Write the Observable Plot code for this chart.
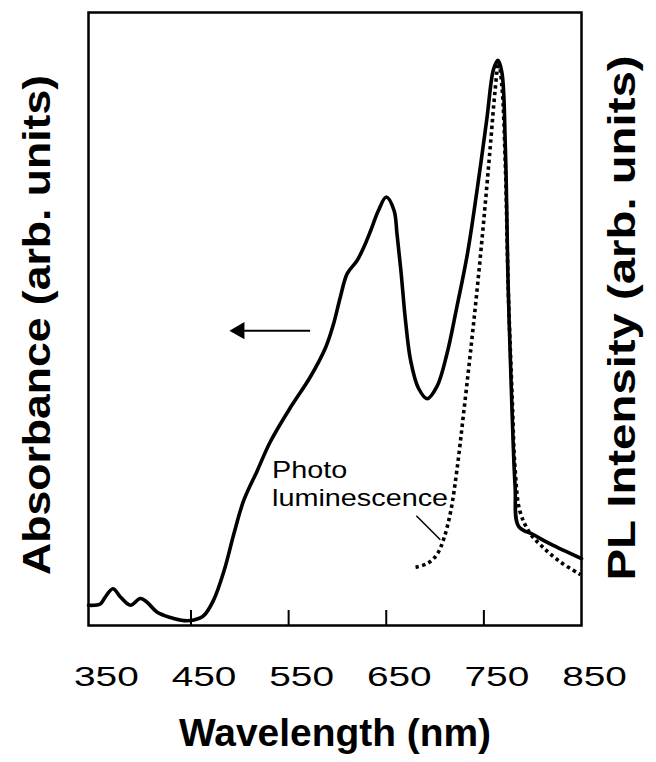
<!DOCTYPE html>
<html><head><meta charset="utf-8">
<script src="https://cdn.jsdelivr.net/npm/d3@7"></script>
<script src="https://cdn.jsdelivr.net/npm/@observablehq/plot@0.6"></script>
<style>body{margin:0;background:#fff;}</style>
</head><body><div id="chart"></div>
<script>
// Absorbance spectrum (solid)
const absWavelength = [345,357,362,370,378,388,398,405,415,429,443,453,463,473,484,494,504,518,531,552,572,588,596,603,610,620,627,634,642,650,658,661,665,670,675,683,692,702,712,722,733,743,753,760,764.5,768.5,772,775,779,782,785.5,801,818,850];
const absValue = [0.033,0.035,0.046,0.060,0.046,0.033,0.044,0.038,0.022,0.013,0.008,0.009,0.016,0.041,0.090,0.150,0.204,0.253,0.299,0.356,0.405,0.454,0.492,0.536,0.574,0.595,0.617,0.644,0.677,0.699,0.677,0.639,0.579,0.493,0.432,0.387,0.370,0.390,0.442,0.517,0.605,0.710,0.826,0.908,0.922,0.902,0.780,0.547,0.343,0.227,0.162,0.148,0.133,0.109];
// Photoluminescence spectrum (dotted)
const plWavelength = [680,692,702,709,716,722.5,729,736,743,750,756.5,761.5,765,768.5,772,775,779,782,787,797.5,811,828,849];
const plValue = [0.095,0.101,0.116,0.142,0.186,0.255,0.343,0.442,0.547,0.663,0.780,0.873,0.919,0.879,0.750,0.547,0.372,0.255,0.186,0.150,0.127,0.104,0.083];
// Axis ticks and labels
const tickMarks = [450,550,650,750];
const tickLabels = [350,450,550,650,750,850];
const xTitle = "Wavelength (nm)";
const yTitleLeft = "Absorbance (arb. units)";
const yTitleRight = "PL Intensity (arb. units)";
// Annotations (data coordinates)
const noteText = ["Photo\nluminescence"];
const noteX = [533];
const noteY = [0.272];
const arrowTailX = [572];
const arrowHeadX = [499.6];
const arrowY = [0.481];
const leaderX = [680.8, 705.4];
const leaderY = [0.179, 0.140];

const absData = absWavelength.map((w, i) => ({w, v: absValue[i]}));
const plData = plWavelength.map((w, i) => ({w, v: plValue[i]}));

const plot = Plot.plot({
  width: 656, height: 762,
  marginLeft: 88, marginRight: 75, marginTop: 12, marginBottom: 137,
  x: {domain: [345, 850]},
  y: {domain: [0, 1], axis: null},
  style: {fontFamily: "'Liberation Sans', Arial, Helvetica, sans-serif", background: "white", color: "black"},
  marks: [
    Plot.line(absData, {x: "w", y: "v", curve: "catmull-rom", stroke: "black", strokeWidth: 3.6}),
    Plot.line(plData, {x: "w", y: "v", curve: "catmull-rom", stroke: "black", strokeWidth: 3.6, strokeDasharray: "3.4,3.4", strokeLinecap: "butt"}),
    Plot.axisX({ticks: tickMarks, tickSize: 15, dy: -15, strokeWidth: 2, tickFormat: () => "", label: null}),
    Plot.axisX({ticks: tickLabels, tickSize: 0, tickPadding: 40, dx: 13, fontSize: 28.5, label: null}),
    Plot.text([xTitle], {frameAnchor: "bottom", dy: 108, fontSize: 39, fontWeight: "bold", textAnchor: "middle", lineAnchor: "middle"}),
    Plot.text([yTitleLeft], {frameAnchor: "left", dx: -51, dy: 6, rotate: -90, fontSize: 39, fontWeight: "bold", textAnchor: "middle", lineAnchor: "middle"}),
    Plot.text([yTitleRight], {frameAnchor: "right", dx: 41, dy: -1, rotate: -90, fontSize: 39, fontWeight: "bold", textAnchor: "middle", lineAnchor: "middle"}),
    Plot.link([0], {x1: arrowTailX, x2: arrowHeadX, y1: arrowY, y2: arrowY, stroke: "black", strokeWidth: 2}),
    Plot.dot([0], {x: arrowHeadX, y: arrowY, symbol: "triangle", r: 6.43, rotate: -90, fill: "black", stroke: "none"}),
    Plot.link([0], {x1: [leaderX[0]], x2: [leaderX[1]], y1: [leaderY[0]], y2: [leaderY[1]], stroke: "black", strokeWidth: 1.5}),
    Plot.text(noteText, {x: noteX, y: noteY, textAnchor: "start", lineAnchor: "top", lineHeight: 1.15, fontSize: 24}),
    Plot.frame({stroke: "black", strokeWidth: 2.5})
  ]
});
document.getElementById("chart").append(plot);

const svg = d3.select(plot);
function fit(el, target) {
  const L = el.getComputedTextLength();
  if (L > 0) { el.setAttribute("textLength", target); el.setAttribute("lengthAdjust", "spacingAndGlyphs"); }
}
function scaleBy(el, f) {
  const L = el.getComputedTextLength();
  if (L > 0) { el.setAttribute("textLength", L * f); el.setAttribute("lengthAdjust", "spacingAndGlyphs"); }
}
const byContent = (s) => svg.selectAll("text").filter(function() { return this.textContent === s; });
svg.selectAll('g[aria-label="x-axis tick label"] text').each(function() { scaleBy(this, 1.36); });
byContent(xTitle).each(function() { fit(this, 312); });
byContent(yTitleLeft).each(function() { fit(this, 500); });
byContent(yTitleRight).each(function() { fit(this, 525); });
svg.selectAll("text").filter(function() { return this.textContent.startsWith("Photo"); })
  .selectAll("tspan").each(function() { scaleBy(this, 1.2); });
</script>
</body></html>
